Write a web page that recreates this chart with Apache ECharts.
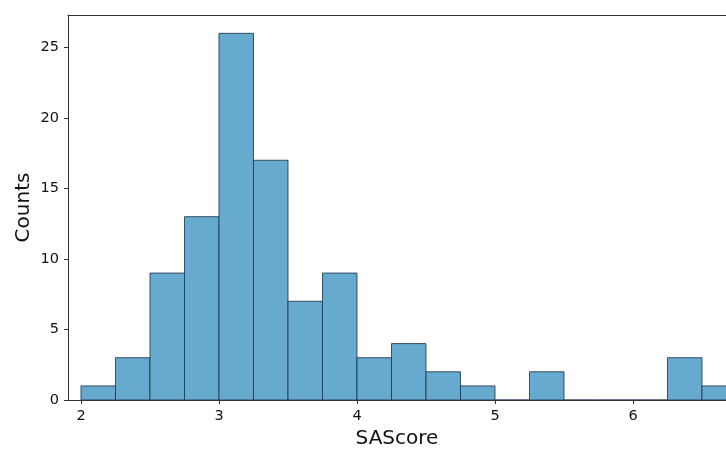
<!DOCTYPE html>
<html>
<head>
<meta charset="utf-8">
<script src="https://cdn.jsdelivr.net/npm/echarts@6/dist/echarts.min.js"></script>
<style>
html,body{margin:0;padding:0;background:#fff;}
#chart{width:726px;height:450px;}
</style>
</head>
<body>
<div id="chart"></div>
<script>
// Histogram bins (SAScore), width 0.25
const binStarts = [2.0, 2.25, 2.5, 2.75, 3.0, 3.25, 3.5, 3.75, 4.0, 4.25, 4.5, 4.75, 5.0, 5.25, 5.5, 5.75, 6.0, 6.25, 6.5];
const binEnds   = [2.25, 2.5, 2.75, 3.0, 3.25, 3.5, 3.75, 4.0, 4.25, 4.5, 4.75, 5.0, 5.25, 5.5, 5.75, 6.0, 6.25, 6.5, 6.75];
const counts    = [1, 3, 9, 13, 26, 17, 7, 9, 3, 4, 2, 1, 0, 2, 0, 0, 0, 3, 1];
const xTicks = [2, 3, 4, 5, 6];
const yTicks = [0, 5, 10, 15, 20, 25];

const data = binStarts.map((s, i) => [s, binEnds[i], counts[i]]);
const FONT = 'DejaVu Sans';
const axisColor = '#333';

const chart = echarts.init(document.getElementById('chart'), null, {renderer: 'canvas'});
chart.setOption({
  animation: false,
  backgroundColor: '#fff',
  grid: {left: 68, top: 15, right: 0, bottom: 50, containLabel: false, outerBoundsMode: 'none'},
  xAxis: [{
    type: 'value', position: 'bottom', min: 1.9058, max: 6.674,
    name: 'SAScore', nameLocation: 'middle', nameGap: 29, nameMoveOverlap: false,
    nameTextStyle: {fontFamily: FONT, fontSize: 20, color: '#111'},
    axisLine: {show: true, lineStyle: {color: axisColor, width: 1}},
    axisTick: {show: true, length: 4, customValues: xTicks, lineStyle: {color: axisColor}},
    axisLabel: {customValues: xTicks, fontFamily: FONT, fontSize: 14.5, color: '#111', margin: 9},
    splitLine: {show: false}
  }, {
    type: 'value', position: 'top', min: 1.9058, max: 6.674,
    axisLine: {show: true, lineStyle: {color: axisColor, width: 1}},
    axisTick: {show: false}, axisLabel: {show: false}, splitLine: {show: false}
  }],
  yAxis: {
    type: 'value', min: 0, max: 27.3,
    name: 'Counts', nameLocation: 'middle', nameGap: 34, nameMoveOverlap: false,
    nameTextStyle: {fontFamily: FONT, fontSize: 20, color: '#111'},
    axisLine: {show: true, lineStyle: {color: axisColor, width: 1}},
    axisTick: {show: true, length: 4, customValues: yTicks, lineStyle: {color: axisColor}},
    axisLabel: {customValues: yTicks, fontFamily: FONT, fontSize: 14.5, color: '#111', margin: 9},
    splitLine: {show: false}
  },
  series: [{
    type: 'custom',
    clip: true,
    xAxisIndex: 0,
    data: data,
    encode: {x: [0, 1], y: 2},
    renderItem: function (params, api) {
      const p0 = api.coord([api.value(0), api.value(2)]);
      const p1 = api.coord([api.value(1), 0]);
      return {
        type: 'rect',
        shape: {x: p0[0], y: p0[1], width: p1[0] - p0[0], height: p1[1] - p0[1]},
        style: {fill: '#67aacf', stroke: 'rgba(35,55,75,0.85)', lineWidth: 1}
      };
    }
  }]
});
</script>
</body>
</html>
